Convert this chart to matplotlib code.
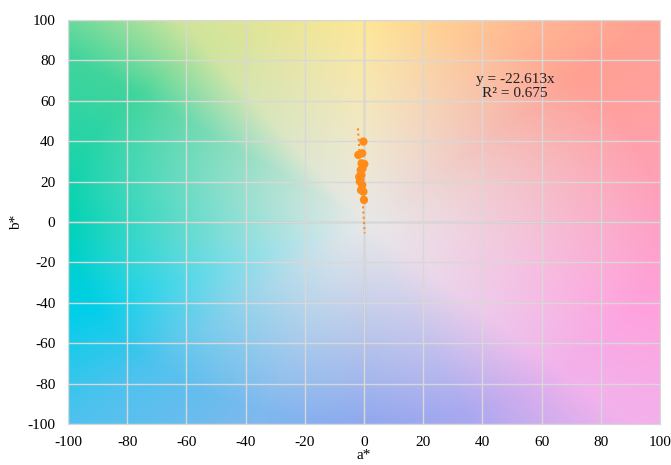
import matplotlib
matplotlib.use("Agg")
import matplotlib.pyplot as plt
import numpy as np
from matplotlib.colors import to_rgb

# measured colour coordinates
a_star = [-0.2, -1.9, -0.6, -0.8, 0.1, -1.1, -1.6, -0.9, -1.4, -0.6, -1.0, -0.2, 0.0, -1.2, -0.5]
b_star = [39.8, 33.2, 34.0, 29.0, 28.7, 25.7, 22.4, 23.3, 20.0, 18.3, 15.8, 15.0, 10.9, 21.0, 26.5]
slope = -22.613
r2 = 0.675

ticks = list(range(-100, 101, 20))

# background hue anchors (angle in a*b* plane, colour at the rim)
hue_angles = [0, 45, 90, 122, 140, 180, 205, 225, 250, 270, 290, 312, 335, 360]
hue_colors = ["#ffa0c4", "#ffa092", "#ffe796", "#cfe49c", "#42d59c", "#00d3b6",
              "#00cfe9", "#4fc2ee", "#7fb8ef", "#8fa8ee", "#aaa8f0", "#f2b2ec",
              "#ffa2de", "#ffa0c4"]
center_color = "#e8e8e8"

plt.rcParams["font.family"] = ["Liberation Serif", "DejaVu Serif"]
plt.rcParams["axes.unicode_minus"] = False


def background(n=400):
    g = np.linspace(-100, 100, n)
    A, B = np.meshgrid(g, g)
    ang = np.degrees(np.arctan2(B, A)) % 360
    rim = np.array([to_rgb(c) for c in hue_colors])
    rgb = np.stack([np.interp(ang, hue_angles, rim[:, k]) for k in range(3)], axis=-1)
    t = np.clip(np.hypot(A, B) / 100, 0, 1) ** 1.1
    c = np.array(to_rgb(center_color))
    return c * (1 - t[..., None]) + rgb * t[..., None]


fig = plt.figure(figsize=(6.71, 4.65), dpi=100)
ax = fig.add_axes([0.1013, 0.0882, 0.8823, 0.8688])

ax.imshow(background(), extent=[-100, 100, -100, 100], origin="lower",
          aspect="auto", zorder=0, interpolation="bilinear")

ax.set_xlim(-100, 100)
ax.set_ylim(-100, 100)
ax.set_xticks(ticks)
ax.set_yticks(ticks)
ax.grid(True, color="#d8d8d8", lw=1.0, zorder=1)
ax.axhline(0, color="#bdbdbd", lw=1.0, zorder=1)
ax.axvline(0, color="#bdbdbd", lw=1.0, zorder=1)
for s in ax.spines.values():
    s.set_color("#d8d8d8")
ax.tick_params(length=0, labelsize=11, pad=9)

# trend line through origin across the data range
xs = np.array([min(a_star), max(a_star)])
xs = xs + np.array([-0.15, 0.15])
ax.plot(xs, slope * xs, ls=(0, (1, 1.5)), color="#ff8c1a", lw=1.5, zorder=2)
ax.scatter(a_star, b_star, s=36, color="#ff8c1a", zorder=3, edgecolors="none")

ax.text(51, 67, f"y = {slope:.3f}x\nR² = {r2:.3f}", ha="center", va="center",
        fontsize=11, color="#222222", linespacing=1.1)

ax.set_xlabel("a*", fontsize=11, labelpad=0)
ax.set_ylabel("b*", fontsize=11, labelpad=3)

fig.savefig("out.png", dpi=100)
